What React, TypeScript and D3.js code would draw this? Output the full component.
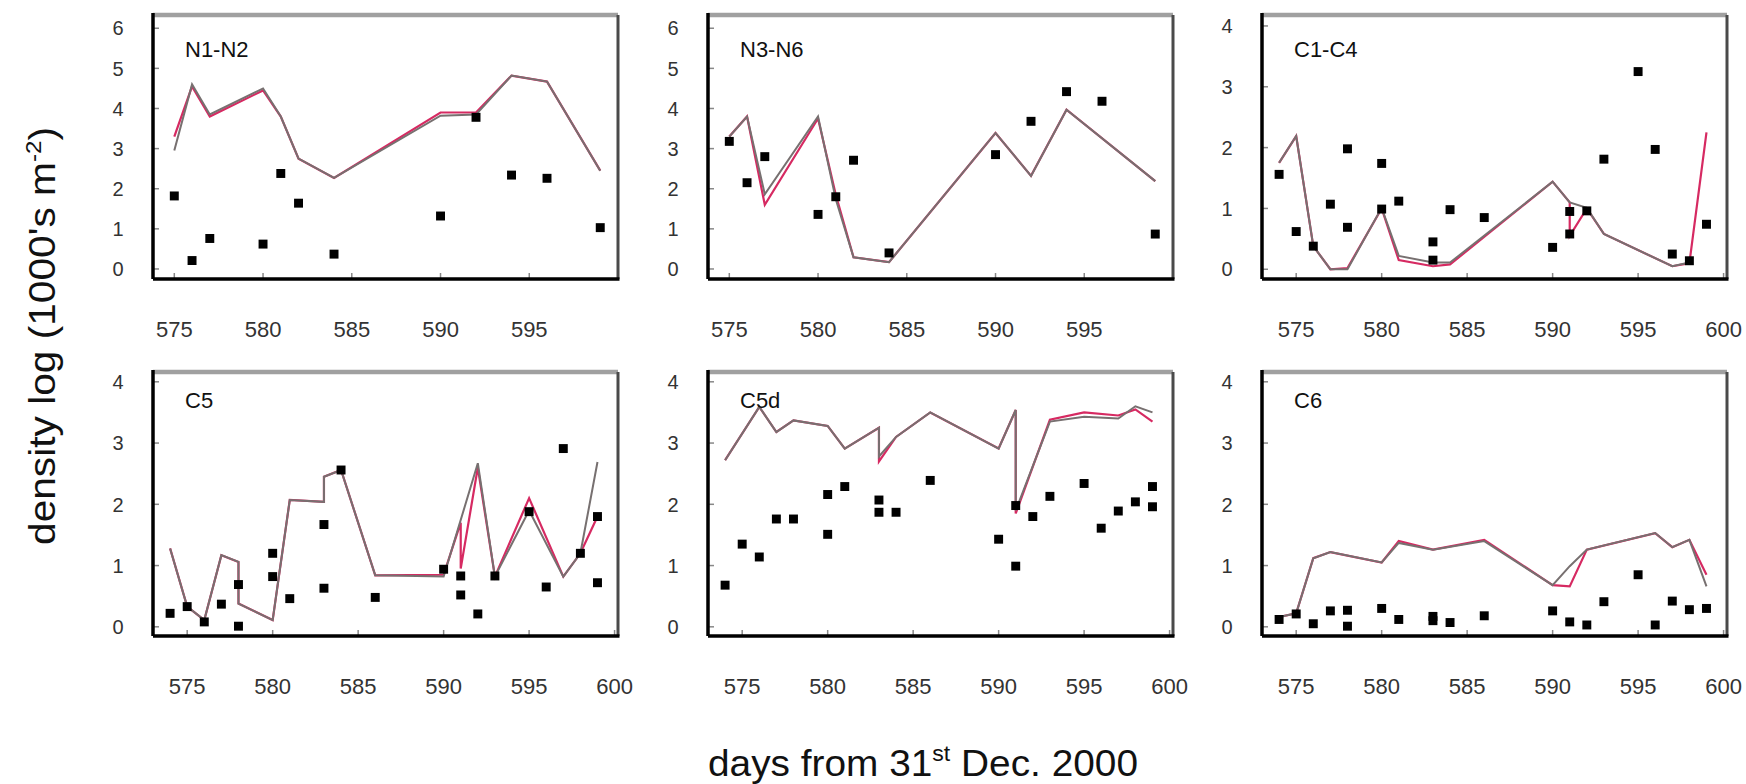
import { useEffect, useRef } from 'react';
import * as d3 from 'd3';

// [day, log density]
const n1n2Obs = [[575, 1.82], [576, 0.21], [577, 0.76], [580, 0.62], [581, 2.38], [582, 1.64], [584, 0.37], [590, 1.32], [592, 3.78], [594, 2.34], [596, 2.26], [599, 1.03]];
const n1n2Grey = [[575, 2.95], [576, 4.6], [577, 3.85], [580, 4.5], [581, 3.8], [582, 2.75], [584, 2.27], [590, 3.82], [592, 3.85], [594, 4.82], [596, 4.67], [599, 2.45]];
const n1n2Red = [[575, 3.3], [576, 4.55], [577, 3.8], [580, 4.45], [581, 3.8], [582, 2.75], [584, 2.27], [590, 3.9], [592, 3.9], [594, 4.82], [596, 4.67], [599, 2.45]];

const n3n6Obs = [[575, 3.18], [576, 2.15], [577, 2.8], [580, 1.36], [581, 1.8], [582, 2.71], [584, 0.4], [590, 2.85], [592, 3.68], [594, 4.42], [596, 4.18], [599, 0.87]];
const n3n6Grey = [[575, 3.3], [576, 3.8], [577, 1.86], [580, 3.8], [581, 1.74], [582, 0.29], [584, 0.17], [590, 3.39], [592, 2.32], [594, 3.97], [599, 2.19]];
const n3n6Red = [[575, 3.3], [576, 3.8], [577, 1.6], [580, 3.75], [581, 1.85], [582, 0.29], [584, 0.17], [590, 3.39], [592, 2.32], [594, 3.97], [599, 2.19]];

const c1c4Obs = [[574, 1.56], [575, 0.62], [576, 0.38], [577, 1.07], [578, 1.98], [578, 0.69], [580, 1.74], [580, 0.99], [581, 1.12], [583, 0.45], [583, 0.15], [584, 0.98], [586, 0.85], [590, 0.36], [591, 0.58], [591, 0.95], [592, 0.96], [593, 1.81], [595, 3.25], [596, 1.97], [597, 0.25], [598, 0.14], [599, 0.74]];
const c1c4Grey = [[574, 1.75], [575, 2.19], [576, 0.38], [577, 0.0], [578, 0.0], [580, 1.01], [581, 0.22], [583, 0.11], [584, 0.11], [590, 1.44], [591, 1.1], [592, 1.01], [593, 0.58], [597, 0.05], [598, 0.11]];
const c1c4Red = [[574, 1.75], [575, 2.19], [576, 0.38], [577, 0.0], [578, 0.02], [580, 1.0], [581, 0.15], [583, 0.05], [584, 0.08], [590, 1.44], [591, 1.1], [591, 0.55], [592, 1.0], [593, 0.58], [597, 0.05], [598, 0.1], [599, 2.25]];

const c5Obs = [[574, 0.22], [575, 0.33], [576, 0.08], [577, 0.37], [578, 0.69], [578, 0.01], [580, 1.2], [580, 0.82], [581, 0.46], [583, 1.67], [583, 0.63], [584, 2.56], [586, 0.48], [590, 0.94], [591, 0.83], [591, 0.52], [592, 0.21], [593, 0.83], [595, 1.88], [596, 0.65], [597, 2.91], [598, 1.2], [599, 1.8], [599, 0.72]];
const c5Grey = [[574, 1.28], [575, 0.33], [576, 0.11], [577, 1.17], [578, 1.06], [578, 0.38], [580, 0.11], [581, 2.07], [583, 2.04], [583, 2.45], [584, 2.56], [586, 0.84], [590, 0.82], [592, 2.67], [593, 0.82], [595, 1.9], [597, 0.82], [598, 1.2], [599, 2.69]];
const c5Red = [[574, 1.28], [575, 0.33], [576, 0.11], [577, 1.17], [578, 1.06], [578, 0.38], [580, 0.11], [581, 2.07], [583, 2.04], [583, 2.45], [584, 2.56], [586, 0.84], [590, 0.85], [591, 1.7], [591, 0.95], [592, 2.6], [593, 0.82], [595, 2.1], [597, 0.82], [598, 1.2], [599, 1.8]];

const c5dObs = [[574, 0.68], [575, 1.35], [576, 1.14], [577, 1.76], [578, 1.76], [580, 2.16], [580, 1.51], [581, 2.29], [583, 2.07], [583, 1.87], [584, 1.87], [586, 2.39], [590, 1.43], [591, 0.99], [591, 1.98], [592, 1.8], [593, 2.13], [595, 2.34], [596, 1.61], [597, 1.89], [598, 2.04], [599, 2.29], [599, 1.96]];
const c5dGrey = [[574, 2.72], [576, 3.59], [577, 3.18], [578, 3.37], [580, 3.28], [581, 2.91], [583, 3.25], [583, 2.78], [584, 3.1], [586, 3.5], [590, 2.91], [591, 3.54], [591, 1.9], [593, 3.35], [595, 3.43], [597, 3.4], [598, 3.6], [599, 3.5]];
const c5dRed = [[574, 2.72], [576, 3.59], [577, 3.18], [578, 3.37], [580, 3.28], [581, 2.91], [583, 3.25], [583, 2.7], [584, 3.1], [586, 3.5], [590, 2.91], [591, 3.54], [591, 1.85], [593, 3.38], [595, 3.5], [597, 3.45], [598, 3.55], [599, 3.35]];

const c6Obs = [[574, 0.12], [575, 0.21], [576, 0.05], [577, 0.26], [578, 0.27], [578, 0.01], [580, 0.3], [581, 0.12], [583, 0.1], [583, 0.17], [584, 0.07], [586, 0.18], [590, 0.26], [591, 0.08], [592, 0.03], [593, 0.41], [595, 0.85], [596, 0.03], [597, 0.42], [598, 0.28], [599, 0.3]];
const c6Grey = [[574, 0.16], [575, 0.22], [576, 1.12], [577, 1.22], [580, 1.05], [581, 1.37], [583, 1.26], [586, 1.4], [590, 0.68], [591, 0.99], [592, 1.26], [596, 1.53], [597, 1.3], [598, 1.42], [599, 0.66]];
const c6Red = [[574, 0.16], [575, 0.22], [576, 1.12], [577, 1.22], [580, 1.05], [581, 1.4], [583, 1.26], [586, 1.42], [590, 0.68], [591, 0.66], [592, 1.26], [596, 1.53], [597, 1.3], [598, 1.42], [599, 0.85]];

const titles = ['N1-N2', 'N3-N6', 'C1-C4', 'C5', 'C5d', 'C6'];
const nauplTicksY = [0, 1, 2, 3, 4, 5, 6];
const copTicksY = [0, 1, 2, 3, 4];
const shortDays = [575, 580, 585, 590, 595];
const fullDays = [575, 580, 585, 590, 595, 600];

const panels = [
  { title: titles[0], obs: n1n2Obs, grey: n1n2Grey, red: n1n2Red, yTicks: nauplTicksY, xTicks: shortDays, xDom: [573.8, 600], yDom: [-0.25, 6.33], col: 0, row: 0 },
  { title: titles[1], obs: n3n6Obs, grey: n3n6Grey, red: n3n6Red, yTicks: nauplTicksY, xTicks: shortDays, xDom: [573.8, 600], yDom: [-0.25, 6.33], col: 1, row: 0 },
  { title: titles[2], obs: c1c4Obs, grey: c1c4Grey, red: c1c4Red, yTicks: copTicksY, xTicks: fullDays, xDom: [573, 600.2], yDom: [-0.16, 4.18], col: 2, row: 0 },
  { title: titles[3], obs: c5Obs, grey: c5Grey, red: c5Red, yTicks: copTicksY, xTicks: fullDays, xDom: [573, 600.2], yDom: [-0.15, 4.16], col: 0, row: 1 },
  { title: titles[4], obs: c5dObs, grey: c5dGrey, red: c5dRed, yTicks: copTicksY, xTicks: fullDays, xDom: [573, 600.2], yDom: [-0.15, 4.16], col: 1, row: 1 },
  { title: titles[5], obs: c6Obs, grey: c6Grey, red: c6Red, yTicks: copTicksY, xTicks: fullDays, xDom: [573, 600.2], yDom: [-0.15, 4.16], col: 2, row: 1 },
];

const colLeft = [153, 708, 1262];
const rowTop = [15, 372];
const titleDy = [42, 36];
const panelW = 465;
const panelH = 264;
const font = '"Liberation Sans", Arial, Helvetica, sans-serif';

export default function App() {
  const svgRef = useRef(null);

  useEffect(() => {
    const svg = d3.select(svgRef.current);
    svg.selectAll('*').remove();

    panels.forEach((p) => {
      const left = colLeft[p.col];
      const top = rowTop[p.row];
      const right = left + panelW;
      const bottom = top + panelH;
      const x = d3.scaleLinear().domain(p.xDom).range([left, right]);
      const y = d3.scaleLinear().domain(p.yDom).range([bottom, top]);
      const g = svg.append('g');

      // frame: grey top, dark right, black axes
      g.append('line').attr('x1', left).attr('x2', right).attr('y1', top).attr('y2', top)
        .attr('stroke', '#a0a0a0').attr('stroke-width', 4.5);
      g.append('line').attr('x1', right).attr('x2', right).attr('y1', top).attr('y2', bottom)
        .attr('stroke', '#4a4a4a').attr('stroke-width', 3);

      // small inward ticks
      g.selectAll('.xt').data(p.xTicks).enter().append('line')
        .attr('x1', (d) => x(d)).attr('x2', (d) => x(d))
        .attr('y1', bottom).attr('y2', bottom - 6)
        .attr('stroke', '#888').attr('stroke-width', 1.5);
      g.selectAll('.yt').data(p.yTicks).enter().append('line')
        .attr('x1', left).attr('x2', left + 6)
        .attr('y1', (d) => y(d)).attr('y2', (d) => y(d))
        .attr('stroke', '#888').attr('stroke-width', 1.5);

      g.append('line').attr('x1', left).attr('x2', right + 1.5).attr('y1', bottom).attr('y2', bottom)
        .attr('stroke', '#000').attr('stroke-width', 3.5);
      g.append('line').attr('x1', left).attr('x2', left).attr('y1', top - 2).attr('y2', bottom)
        .attr('stroke', '#000').attr('stroke-width', 3.5);

      // tick labels
      g.selectAll('.xl').data(p.xTicks).enter().append('text')
        .attr('x', (d) => x(d)).attr('y', bottom + 58)
        .attr('text-anchor', 'middle').attr('font-family', font).attr('font-size', 22)
        .attr('fill', '#333').text((d) => d);
      g.selectAll('.yl').data(p.yTicks).enter().append('text')
        .attr('x', left - 35).attr('y', (d) => y(d))
        .attr('dy', '0.36em')
        .attr('text-anchor', 'middle').attr('font-family', font).attr('font-size', 20)
        .attr('fill', '#333').text((d) => d);

      // model lines: red underneath, grey on top
      const line = d3.line().x((d) => x(d[0])).y((d) => y(d[1]));
      g.append('path').attr('d', line(p.red)).attr('fill', 'none')
        .attr('stroke', '#d62a62').attr('stroke-width', 2.2);
      g.append('path').attr('d', line(p.grey)).attr('fill', 'none')
        .attr('stroke', '#777070').attr('stroke-width', 2);

      // observations
      g.selectAll('.pt').data(p.obs).enter().append('path')
        .attr('d', d3.symbol(d3.symbolSquare, 80)())
        .attr('transform', (d) => `translate(${x(d[0])},${y(d[1])})`)
        .attr('fill', '#000');

      g.append('text')
        .attr('x', left + 32).attr('y', top + titleDy[p.row])
        .attr('font-family', font).attr('font-size', 22).attr('fill', '#111')
        .text(p.title);
    });

    // axis titles
    const yLab = svg.append('text')
      .attr('transform', 'translate(55,336) rotate(-90)')
      .attr('text-anchor', 'middle').attr('font-family', font).attr('font-size', 37).attr('fill', '#111')
      .attr('textLength', 418).attr('lengthAdjust', 'spacingAndGlyphs');
    yLab.append('tspan').text("density log (1000's m");
    yLab.append('tspan').attr('dy', -14).attr('font-size', 22).text('-2');
    yLab.append('tspan').attr('dy', 14).text(')');

    const xLab = svg.append('text')
      .attr('x', 923).attr('y', 776)
      .attr('text-anchor', 'middle').attr('font-family', font).attr('font-size', 37).attr('fill', '#111')
      .attr('textLength', 430).attr('lengthAdjust', 'spacingAndGlyphs');
    xLab.append('tspan').text('days from 31');
    xLab.append('tspan').attr('dy', -15).attr('font-size', 22).text('st');
    xLab.append('tspan').attr('dy', 15).text(' Dec. 2000');
  }, []);

  return (
    <svg ref={svgRef} width={1746} height={784}
      style={{ position: 'absolute', left: 0, top: 0, background: '#fff' }} />
  );
}
